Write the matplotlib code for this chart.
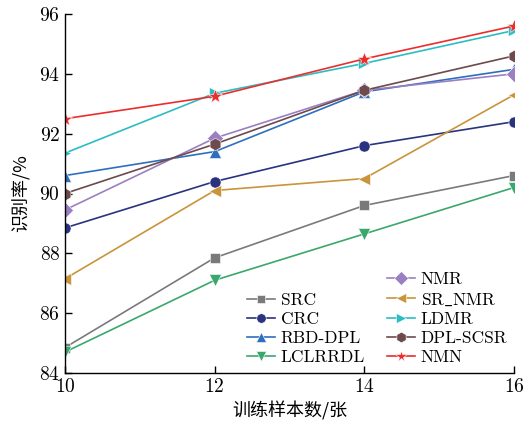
import matplotlib
matplotlib.use("Agg")
import matplotlib.pyplot as plt

samples = [10, 12, 14, 16]
methods = ["SRC", "CRC", "RBD-DPL", "LCLRRDL", "NMR", "SR$\\_$NMR", "LDMR", "DPL-SCSR", "NMN"]
src = [84.85, 87.85, 89.6, 90.6]
crc = [88.85, 90.4, 91.6, 92.4]
rbd_dpl = [90.6, 91.4, 93.4, 94.15]
lclrrdl = [84.7, 87.1, 88.65, 90.2]
nmr = [89.45, 91.85, 93.45, 94.0]
sr_nmr = [87.15, 90.1, 90.5, 93.3]
ldmr = [91.35, 93.35, 94.35, 95.45]
dpl_scsr = [90.0, 91.65, 93.45, 94.6]
nmn = [92.5, 93.25, 94.5, 95.6]

series = [src, crc, rbd_dpl, lclrrdl, nmr, sr_nmr, ldmr, dpl_scsr, nmn]
colors = ["#7a7a7a", "#29337f", "#2e6fbd", "#3aa86c", "#9a80c2",
          "#c9943a", "#2bbdc4", "#6d4a4c", "#ee2c2c"]
markers = ["s", "o", "^", "v", "D", "<", ">", "h", "*"]
sizes = [7, 8, 8, 8, 8, 8, 8, 9, 10]

plt.rcParams["font.family"] = ["cmr10", "Noto Sans CJK SC"]
plt.rcParams["mathtext.fontset"] = "cm"
plt.rcParams["axes.formatter.use_mathtext"] = True

fig = plt.figure(figsize=(5.25, 4.28), dpi=100)
ax = fig.add_axes([65 / 525, 1 - 373 / 428, (514 - 65) / 525, (373 - 14) / 428])

lines = []
for name, vals, c, m, s in zip(methods, series, colors, markers, sizes):
    ln, = ax.plot(samples, vals, color=c, marker=m, markersize=s, lw=1.2,
                  markeredgecolor="white", markeredgewidth=0.4, label=name)
    lines.append(ln)

ax.set_xlim(10, 16)
ax.set_ylim(84, 96)
ax.set_xticks(samples)
ax.set_yticks([84, 86, 88, 90, 92, 94, 96])
ax.tick_params(direction="in", labelsize=14, length=5, width=1)
ax.spines["top"].set_visible(False)
ax.spines["right"].set_visible(False)
for sp in ["left", "bottom"]:
    ax.spines[sp].set_linewidth(1)

ax.set_xlabel("训练样本数/张", fontsize=13, family="Noto Sans CJK SC", labelpad=4)
ax.set_ylabel("识别率/%", fontsize=13, family="Noto Sans CJK SC", labelpad=6)

leg_kw = dict(frameon=False, fontsize=12.5, handlelength=1.6, handletextpad=0.35,
              labelspacing=0.22, borderaxespad=0, borderpad=0, markerscale=0.85)
leg1 = ax.legend(lines[:4], methods[:4], loc="lower left",
                 bbox_to_anchor=(0.405, 0.022), **leg_kw)
ax.add_artist(leg1)
ax.legend(lines[4:], methods[4:], loc="lower left",
          bbox_to_anchor=(0.717, 0.022), **leg_kw)

fig.savefig("out.png", dpi=100)
